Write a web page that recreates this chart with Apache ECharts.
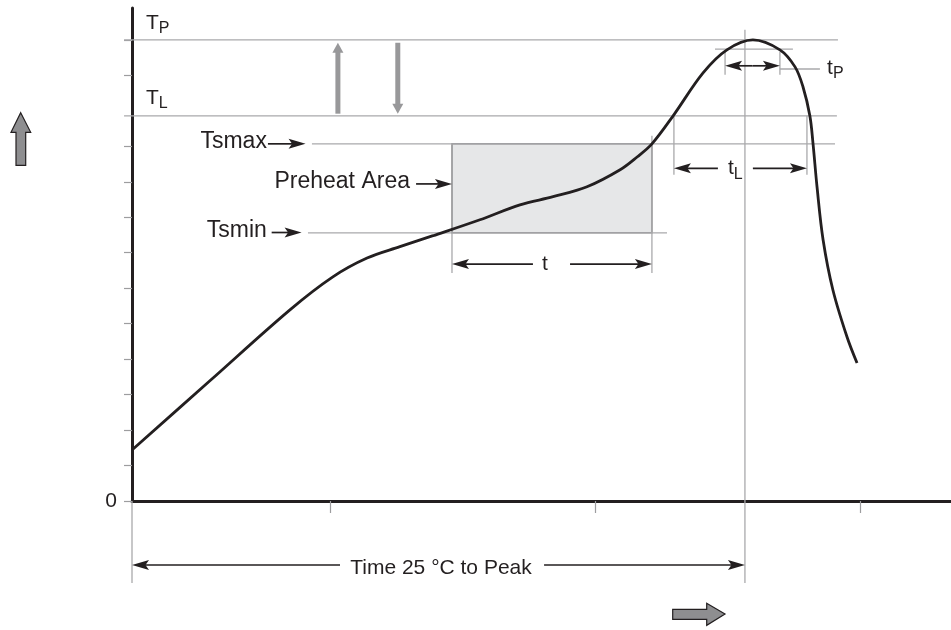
<!DOCTYPE html>
<html>
<head>
<meta charset="utf-8">
<style>
  html, body { margin: 0; padding: 0; background: #fff; }
  #chart { width: 951px; height: 630px; }
</style>
<script src="https://cdn.jsdelivr.net/npm/echarts@6/dist/echarts.min.js"></script>
</head>
<body>
<div id="chart"></div>
<script>
// time in arbitrary units (ticks at 0/100/200), temperature in tick steps (TP = 13)
const profileX = [-75, -45.6, -15.4, 0.8, 13.7, 26.1, 38.6, 56.3, 71.4, 83.9, 96.7, 109.2, 115.6, 121.2, 129.2, 140.5, 149.5, 159.3, 169.5, 175.2, 178.2, 180.8, 182, 183.5, 185.8, 189.5, 194.8, 198.6];
const profileY = [1.44, 3.39, 5.39, 6.32, 6.85, 7.17, 7.48, 7.93, 8.35, 8.58, 8.86, 9.34, 9.70, 10.07, 10.86, 12.07, 12.72, 13.0, 12.72, 12.24, 11.68, 10.86, 10.07, 8.86, 7.36, 5.95, 4.63, 3.89];

const xTickValues = [0, 100, 200];
const yTickValues = [0, 1, 2, 3, 4, 5, 6, 7, 8, 9, 10, 12, 13];
const yLabelValues = [0];

// thin gray reference lines: [x1, y1, x2, y2]
const guideLines = [
  [-78, 13, 191.4, 13],
  [-78, 10.86, 191, 10.86],
  [-7.1, 10.07, 190.3, 10.07],
  [-8.6, 7.56, 126.9, 7.56],
  [156.3, 13.29, 156.3, -2.31],
  [-75, 0, -75, -2.31],
  [45.75, 7.56, 45.75, 6.43],
  [121.2, 10.3, 121.2, 6.43],
  [129.5, 10.86, 129.5, 9.2],
  [179.7, 10.86, 179.7, 9.2],
  [148.8, 12.67, 148.8, 12.02],
  [169.5, 12.67, 169.5, 12.02],
  [145, 12.74, 174.4, 12.74],
  [169.5, 12.18, 184.6, 12.18]
];

// preheat area: [x1, x2, yLow, yHigh]
const preheatArea = [[45.75, 121.2, 7.56, 10.07]];

// double-headed spans: [x1, x2, y, gapFrom, gapTo]
const spanArrows = [
  [45.75, 121.2, 6.68, 76.3, 90.3],
  [129.5, 179.7, 9.38, 146.1, 159.3],
  [148.8, 169.5, 12.27, 159.15, 159.15],
  [-75, 156.3, -1.805, 3.5, 80.5]
];

// pointers to levels: [x1, x2, y]
const pointerArrows = [
  [-23.7, -9.5, 10.07],
  [32.2, 45.75, 8.94],
  [-22.3, -11, 7.57]
];

// gray up/down arrows between TL and TP: [x, yFrom, yTo]
const levelArrows = [
  [2.7, 10.92, 12.92],
  [25.3, 12.92, 10.92]
];

const leftLabels = ['T{s|P}', 'T{s|L}', 't{s|P}'];
const leftLabelPos = [[-69.7, 13.47], [-69.7, 11.37], [187.3, 12.2]];
const rightLabels = ['Tsmax', 'Preheat Area', 'Tsmin'];
const rightLabelPos = [[-24.1, 10.14], [29.9, 9.0], [-24.1, 7.62]];
const centerLabels = ['t', 't{s|L}', 'Time 25 \u00B0C to Peak'];
const centerLabelPos = [[80.8, 6.68], [152.7, 9.37], [41.6, -1.9]];

const ink = '#231f20';
const guideGray = '#a9a9ab';
const fontFamily = '"Liberation Sans", Arial, Helvetica, sans-serif';

function head(tip, ux, uy, len, half, notch, color) {
  const nx = -uy, ny = ux;
  const bx = tip[0] - ux * len, by = tip[1] - uy * len;
  return {
    type: 'polygon',
    shape: { points: [tip, [bx + nx * half, by + ny * half], [tip[0] - ux * (len - notch), tip[1] - uy * (len - notch)], [bx - nx * half, by - ny * half]] },
    style: { fill: color }
  };
}

function seg(a, b, color, w) {
  return { type: 'line', shape: { x1: a[0], y1: a[1], x2: b[0], y2: b[1] }, style: { stroke: color, lineWidth: w } };
}

function labelSeries(texts, pos, align, fontSize) {
  return {
    type: 'custom',
    coordinateSystem: 'cartesian2d',
    silent: true,
    z: 10,
    data: pos,
    renderItem(params, api) {
      const p = api.coord([api.value(0), api.value(1)]);
      return {
        type: 'text',
        style: {
          text: texts[params.dataIndex],
          x: p[0], y: p[1],
          align, verticalAlign: 'middle',
          fontSize, fontFamily, fill: ink,
          rich: { s: { fontSize: 16, fontFamily, fill: ink, padding: [11, 0, 0, 0] } }
        }
      };
    }
  };
}

const chart = echarts.init(document.getElementById('chart'));

const option = {
  animation: false,
  grid: { left: 132, right: 0, top: 8, bottom: 129, containLabel: false },
  xAxis: {
    type: 'value',
    min: -75,
    max: 234.06,
    axisLine: { onZero: false, lineStyle: { color: ink, width: 3 } },
    axisTick: { show: true, customValues: xTickValues, length: 12, lineStyle: { color: '#9d9d9f', width: 1.2 } },
    axisLabel: { show: false },
    splitLine: { show: false }
  },
  yAxis: {
    type: 'value',
    min: 0,
    max: 13.9,
    axisLine: { show: true, onZero: false, lineStyle: { color: ink, width: 3 } },
    axisTick: { show: true, customValues: yTickValues, length: 8, lineStyle: { color: '#9d9d9f', width: 1.2 } },
    axisLabel: { customValues: yLabelValues, margin: 15, fontSize: 21, fontFamily, color: ink },
    splitLine: { show: false }
  },
  graphic: [
    {
      type: 'polygon',
      shape: { points: [[20.7, 112.7], [30.7, 132.3], [25.7, 132.3], [25.7, 165.3], [16, 165.3], [16, 132.3], [11, 132.3]] },
      style: { fill: '#8e8e90', stroke: ink, lineWidth: 1.2 }
    },
    {
      type: 'polygon',
      shape: { points: [[725, 614], [706.7, 603.3], [706.7, 609.3], [672.7, 609.3], [672.7, 619.3], [706.7, 619.3], [706.7, 625.3]] },
      style: { fill: '#8e8e90', stroke: ink, lineWidth: 1.2 }
    }
  ],
  series: [
    {
      type: 'custom',
      coordinateSystem: 'cartesian2d',
      silent: true,
      z: 1,
      data: preheatArea,
      encode: { x: [0, 1], y: [2, 3] },
      renderItem(params, api) {
        const a = api.coord([api.value(0), api.value(3)]);
        const b = api.coord([api.value(1), api.value(2)]);
        return {
          type: 'rect',
          shape: { x: a[0], y: a[1], width: b[0] - a[0], height: b[1] - a[1] },
          style: { fill: '#e6e7e8', stroke: '#8c8c8e', lineWidth: 1.5 }
        };
      }
    },
    {
      type: 'custom',
      coordinateSystem: 'cartesian2d',
      silent: true,
      z: 2,
      data: guideLines,
      encode: { x: [0, 2], y: [1, 3] },
      renderItem(params, api) {
        return seg(api.coord([api.value(0), api.value(1)]), api.coord([api.value(2), api.value(3)]), guideGray, 1.3);
      }
    },
    {
      type: 'line',
      z: 5,
      smooth: 0.35,
      symbol: 'none',
      silent: true,
      lineStyle: { color: ink, width: 2.8 },
      data: profileX.map((x, i) => [x, profileY[i]])
    },
    {
      type: 'custom',
      coordinateSystem: 'cartesian2d',
      silent: true,
      z: 6,
      data: spanArrows,
      renderItem(params, api) {
        const y = api.value(2);
        const a = api.coord([api.value(0), y]);
        const b = api.coord([api.value(1), y]);
        const g1 = api.coord([api.value(3), y]);
        const g2 = api.coord([api.value(4), y]);
        return {
          type: 'group',
          children: [
            seg([a[0] + 10, a[1]], g1, ink, 1.7),
            seg(g2, [b[0] - 10, b[1]], ink, 1.7),
            head(a, -1, 0, 17, 5, 3.5, ink),
            head(b, 1, 0, 17, 5, 3.5, ink)
          ]
        };
      }
    },
    {
      type: 'custom',
      coordinateSystem: 'cartesian2d',
      silent: true,
      z: 6,
      data: pointerArrows,
      renderItem(params, api) {
        const y = api.value(2);
        const a = api.coord([api.value(0), y]);
        const b = api.coord([api.value(1), y]);
        return {
          type: 'group',
          children: [seg(a, [b[0] - 10, b[1]], ink, 1.7), head(b, 1, 0, 17, 5, 3.5, ink)]
        };
      }
    },
    {
      type: 'custom',
      coordinateSystem: 'cartesian2d',
      silent: true,
      z: 6,
      data: levelArrows,
      renderItem(params, api) {
        const a = api.coord([api.value(0), api.value(1)]);
        const b = api.coord([api.value(0), api.value(2)]);
        const dir = b[1] < a[1] ? -1 : 1;
        return {
          type: 'group',
          children: [seg(a, [b[0], b[1] - dir * 8], '#98989a', 5), head(b, 0, dir, 10, 5.5, 0, '#98989a')]
        };
      }
    },
    labelSeries(leftLabels, leftLabelPos, 'left', 21),
    labelSeries(rightLabels, rightLabelPos, 'right', 23),
    labelSeries(centerLabels, centerLabelPos, 'center', 21)
  ]
};

chart.setOption(option);
</script>
</body>
</html>
